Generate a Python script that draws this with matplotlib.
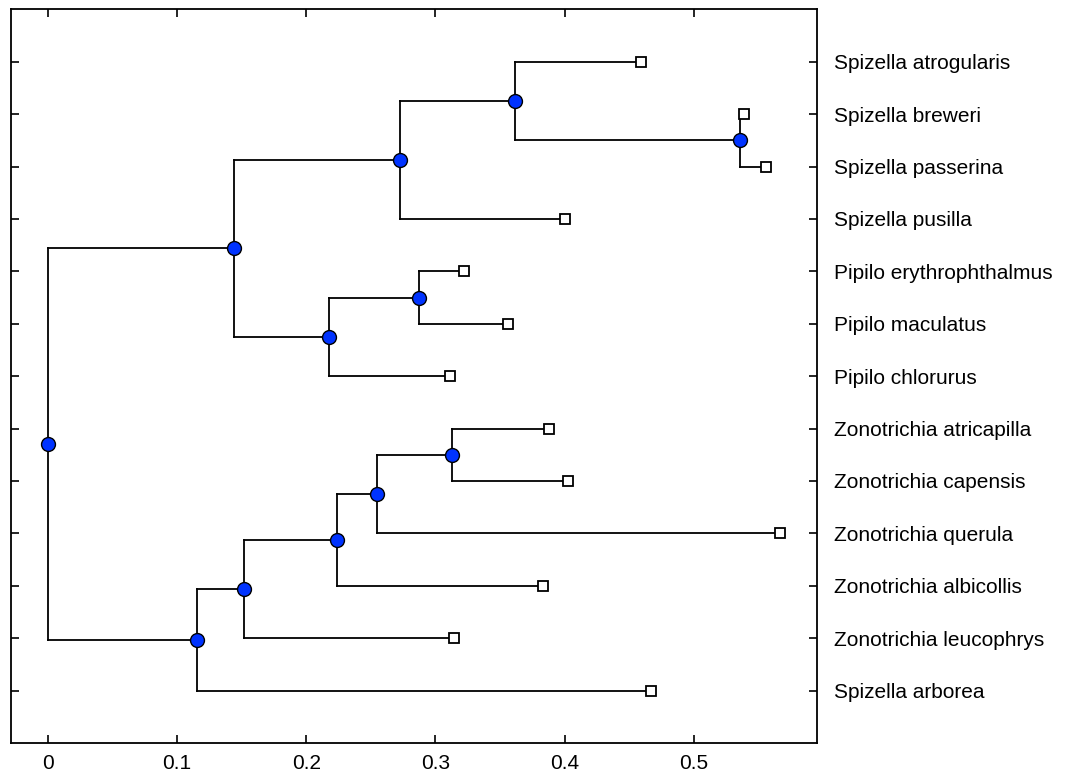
import matplotlib
matplotlib.use('Agg')
import matplotlib.pyplot as plt

plt.rcParams['font.family'] = ['Liberation Sans', 'DejaVu Sans']

# leaves, top to bottom, with their distance from the root
leaf_names = ['Spizella atrogularis', 'Spizella breweri', 'Spizella passerina',
              'Spizella pusilla', 'Pipilo erythrophthalmus', 'Pipilo maculatus',
              'Pipilo chlorurus', 'Zonotrichia atricapilla', 'Zonotrichia capensis',
              'Zonotrichia querula', 'Zonotrichia albicollis', 'Zonotrichia leucophrys',
              'Spizella arborea']
leaf_dist = [0.459, 0.539, 0.556, 0.400, 0.322, 0.356, 0.311,
             0.388, 0.403, 0.567, 0.383, 0.314, 0.467]

# internal nodes: distance from root and children (leaf index or node name)
node_dist = {'root': 0.0, 'A': 0.1437, 'B': 0.2728, 'C': 0.3617, 'D': 0.5355,
             'E': 0.2179, 'F': 0.2875, 'G': 0.1151, 'H': 0.1522, 'I': 0.2241,
             'J': 0.2550, 'K': 0.3130}
node_children = {'root': ['A', 'G'], 'A': ['B', 'E'], 'B': ['C', 3], 'C': [0, 'D'],
                 'D': [1, 2], 'E': ['F', 6], 'F': [4, 5], 'G': ['H', 12],
                 'H': ['I', 11], 'I': ['J', 10], 'J': ['K', 9], 'K': [7, 8]}


def pos(n):
    if isinstance(n, int):
        return leaf_dist[n], n + 1
    ys = [pos(c)[1] for c in node_children[n]]
    return node_dist[n], sum(ys) / len(ys)


fig = plt.figure(figsize=(10.71, 7.76), dpi=100)
ax = fig.add_axes([0.0105, 0.0425, 0.7523, 0.9455])

for n in node_children:
    x, y = pos(n)
    cy = [pos(c)[1] for c in node_children[n]]
    ax.plot([x, x], [min(cy), max(cy)], color='black', lw=1.3, zorder=1)
    for c in node_children[n]:
        cx, cyy = pos(c)
        ax.plot([x, cx], [cyy, cyy], color='black', lw=1.3, zorder=1)

nx = [pos(n)[0] for n in node_children]
ny = [pos(n)[1] for n in node_children]
ax.plot(nx, ny, 'o', ms=10, mfc='#0033ff', mec='black', mew=1.0, zorder=3)
ax.plot(leaf_dist, range(1, len(leaf_dist) + 1), 's', ms=6.5, mfc='white',
        mec='black', mew=1.3, zorder=3)

m = max(leaf_dist)
ax.set_xlim(-0.05 * m, 1.05 * m)
ax.set_ylim(len(leaf_names) + 1, 0)
ax.set_xticks([0, 0.1, 0.2, 0.3, 0.4, 0.5])
ax.set_xticklabels(['0', '0.1', '0.2', '0.3', '0.4', '0.5'])
ax.set_yticks(range(1, len(leaf_names) + 1))
ax.set_yticklabels(leaf_names)
ax.tick_params(axis='both', direction='in', length=5.5, width=1.2, labelsize=15)
ax.tick_params(axis='y', left=True, right=True, labelleft=False, labelright=True, pad=12)
ax.tick_params(axis='x', top=True, bottom=True, pad=8)
for s in ax.spines.values():
    s.set_linewidth(1.3)

fig.savefig('out.png', dpi=100)
